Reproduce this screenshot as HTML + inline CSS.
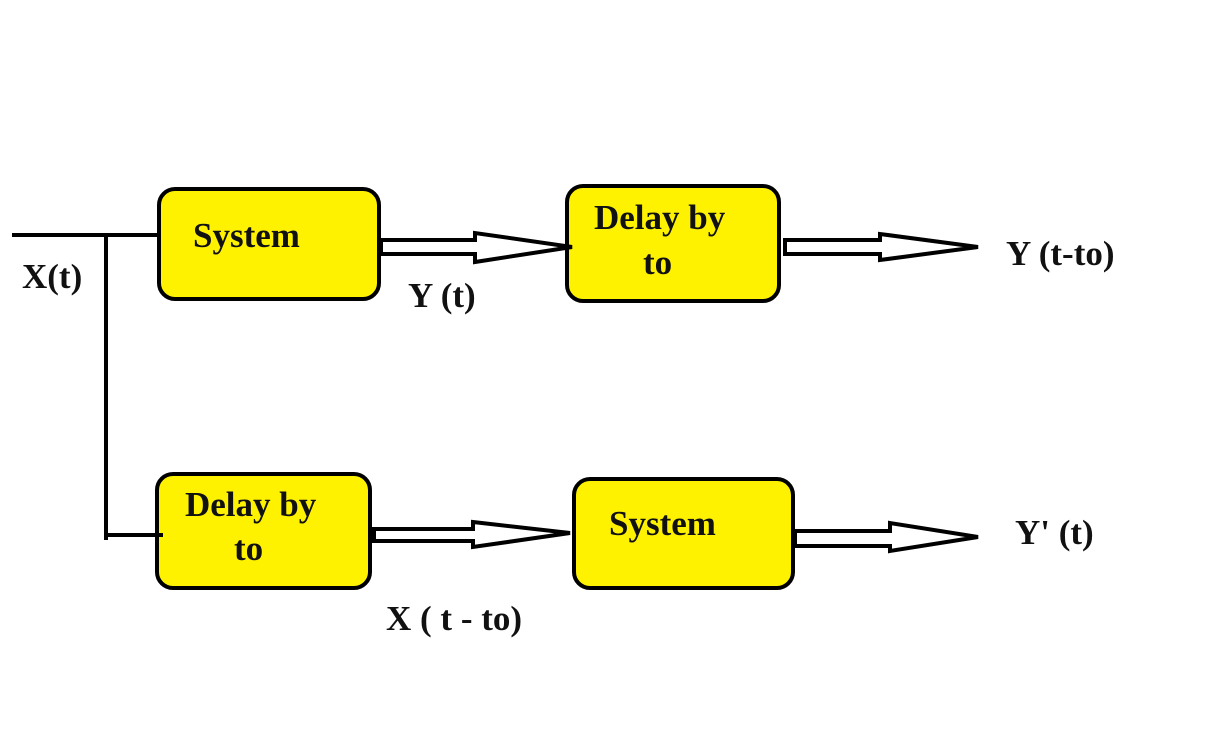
<!DOCTYPE html>
<html><head><meta charset="utf-8"><style>
html,body{margin:0;padding:0;background:#fff;width:1206px;height:740px;overflow:hidden}
text{font-family:"Liberation Serif",serif;font-weight:bold;fill:#111}
</style></head><body>
<svg width="1206" height="740" viewBox="0 0 1206 740" xmlns="http://www.w3.org/2000/svg">
<g stroke="#000" stroke-width="4" fill="#fff200">
<rect x="159" y="189" width="220" height="110" rx="16"/>
<rect x="567" y="186" width="212" height="115" rx="16"/>
<rect x="157" y="474" width="213" height="114" rx="16"/>
<rect x="574" y="479" width="219" height="109" rx="16"/>
</g>
<g stroke="#000" stroke-width="4" fill="none">
<polyline points="12,235 158,235"/>
<polyline points="106,235 106,540"/>
<polyline points="106,535 163,535"/>
</g>
<g stroke="#000" stroke-width="4" fill="#fff" stroke-linejoin="miter">
<polygon points="381,240 475,240 475,233 572,247 475,262 475,254 381,254"/>
<polygon points="785,240 880,240 880,234 978,247 880,260 880,254 785,254"/>
<polygon points="374,529 473,529 473,522 570,533 473,547 473,541 374,541"/>
<polygon points="795,531 890,531 890,523 978,537 890,551 890,546 795,546"/>
</g>
<g font-size="35">
<text x="193" y="247">System</text>
<text x="594" y="229">Delay by</text>
<text x="643" y="274">to</text>
<text x="185" y="516">Delay by</text>
<text x="234" y="560">to</text>
<text x="609" y="535">System</text>
<text x="22" y="288">X(t)</text>
<text x="408" y="307">Y (t)</text>
<text x="1006" y="265">Y (t-to)</text>
<text x="386" y="630">X ( t - to)</text>
<text x="1015" y="544">Y' (t)</text>
</g>
</svg>
</body></html>
